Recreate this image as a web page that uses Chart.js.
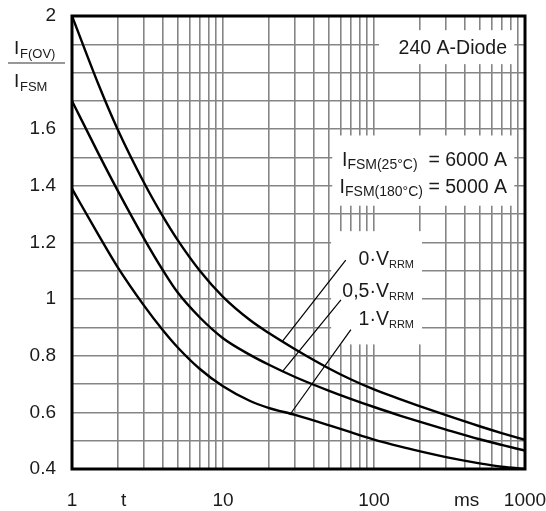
<!DOCTYPE html>
<html lang="de">
<head>
<meta charset="UTF-8">
<title>IF(OV) / IFSM</title>
<script src="https://cdn.jsdelivr.net/npm/chart.js"></script>
<style>
  html, body { margin: 0; padding: 0; background: #fff; }
  #wrap { width: 546px; height: 511px; }
</style>
</head>
<body>
<div id="wrap"><canvas id="surgeChart"></canvas></div>
<script>
// t in ms (log axis)
const times    = [1, 1.5, 2, 3, 4, 5, 7, 10, 15, 20, 30, 50, 70, 100, 150, 200, 300, 500, 700, 1000];
// IF(OV) / IFSM for the three reverse voltages
const curve0V  = [2.00, 1.757, 1.601, 1.411, 1.292, 1.209, 1.101, 1.008, 0.927, 0.881, 0.823, 0.756, 0.717, 0.681, 0.646, 0.622, 0.590, 0.551, 0.527, 0.503];
const curve05V = [1.70, 1.513, 1.385, 1.214, 1.102, 1.024, 0.936, 0.862, 0.804, 0.769, 0.725, 0.677, 0.648, 0.619, 0.588, 0.567, 0.539, 0.505, 0.485, 0.465];
const curve1V  = [1.39, 1.226, 1.114, 0.977, 0.890, 0.830, 0.754, 0.692, 0.641, 0.616, 0.591, 0.555, 0.530, 0.504, 0.479, 0.463, 0.442, 0.420, 0.408, 0.400];

// leader lines from curve to label (t, value)
const leader0T  = [24.8, 65];   const leader0V  = [0.852, 1.138];
const leader05T = [24.8, 60.4]; const leader05V = [0.745, 0.997];
const leader1T  = [28.1, 70.3]; const leader1V  = [0.596, 0.892];

// tick labels
const yTickLabels = ['2', '1.6', '1.4', '1.2', '1', '0.8', '0.6', '0.4'];
const xLabelAt    = [1, 2.2, 10, 100, 411, 1000];
const xLabelText  = ['1', 't', '10', '100', 'ms', '1000'];

const FONT = "'Liberation Sans', Arial, sans-serif";

const xGrid = [];
for (let d = 1; d < 1000; d *= 10) {
    for (let k = 1; k < 10; k++) xGrid.push(k * d);
}
xGrid.push(1000);
const xTicks = Array.from(new Set(xGrid.concat(xLabelAt))).sort((a, b) => a - b);

// white label backgrounds: [t0, t1, v0, v1]
const whiteBoxes = [
    [108, 850, 1.83, 1.95],
    [52.9, 850, 1.33, 1.578],
    [52, 208, 0.84, 1.24]
];

function pts(xs, ys) {
    return xs.map((t, i) => ({x: t, y: ys[i]}));
}

function richText(ctx, parts, xRight, yMid) {
    let w = 0;
    parts.forEach(p => { ctx.font = p[1] + 'px ' + FONT; w += ctx.measureText(p[0]).width; });
    let cx = xRight - w;
    ctx.textBaseline = 'middle';
    ctx.textAlign = 'left';
    parts.forEach(p => {
        ctx.font = p[1] + 'px ' + FONT;
        ctx.fillText(p[0], cx, yMid + (p[2] || 0));
        cx += ctx.measureText(p[0]).width;
    });
}

function noPadding(s) {
    s.paddingLeft = 0;
    s.paddingRight = 0;
    s.paddingTop = 0;
    s.paddingBottom = 0;
}

const annotate = {
    id: 'annotate',
    beforeDatasetsDraw(chart) {
        const {ctx, scales: {x, y}} = chart;
        ctx.save();
        ctx.fillStyle = '#fff';
        whiteBoxes.forEach(b => {
            const x0 = x.getPixelForValue(b[0]), x1 = x.getPixelForValue(b[1]);
            const y0 = y.getPixelForValue(b[3]), y1 = y.getPixelForValue(b[2]);
            ctx.fillRect(x0, y0, x1 - x0, y1 - y0);
        });
        ctx.restore();
    },
    afterDatasetsDraw(chart) {
        const {ctx, chartArea: a} = chart;
        ctx.save();
        ctx.strokeStyle = '#000';
        ctx.lineWidth = 3;
        ctx.strokeRect(a.left, a.top, a.right - a.left, a.bottom - a.top);
        ctx.restore();
    },
    afterDraw(chart) {
        const {ctx, chartArea: a, scales: {x, y}} = chart;
        ctx.save();
        ctx.fillStyle = '#1a1a1a';
        const xr = x.getPixelForValue(760);
        richText(ctx, [['240 A-Diode', 19.5]], xr, y.getPixelForValue(1.885));
        richText(ctx, [['I', 19.5], ['FSM(25°C)', 14, 5], ['  = 6000 A', 19.5]], xr, y.getPixelForValue(1.49));
        richText(ctx, [['I', 19.5], ['FSM(180°C)', 14, 5], [' = 5000 A', 19.5]], xr, y.getPixelForValue(1.395));
        const vr = x.getPixelForValue(184);
        richText(ctx, [['0·V', 19.5], ['RRM', 11, 5]], vr, y.getPixelForValue(1.138));
        richText(ctx, [['0,5·V', 19.5], ['RRM', 11, 5]], vr, y.getPixelForValue(1.026));
        richText(ctx, [['1·V', 19.5], ['RRM', 11, 5]], vr, y.getPixelForValue(0.927));

        // y axis title as fraction
        const fy = a.top + 47;
        ctx.textBaseline = 'middle';
        ctx.textAlign = 'left';
        ctx.font = '19px ' + FONT;
        ctx.fillText('I', 14, fy - 14);
        ctx.fillText('I', 14, fy + 19);
        ctx.font = '13px ' + FONT;
        ctx.fillText('F(OV)', 20, fy - 9);
        ctx.fillText('FSM', 20, fy + 24);
        ctx.strokeStyle = '#333';
        ctx.lineWidth = 1.2;
        ctx.beginPath();
        ctx.moveTo(8, fy);
        ctx.lineTo(65, fy);
        ctx.stroke();
        ctx.restore();
    }
};

const curveStyle = {
    borderColor: '#000',
    borderWidth: 2.4,
    pointRadius: 0,
    fill: false,
    cubicInterpolationMode: 'monotone'
};
const leaderStyle = {
    borderColor: '#000',
    borderWidth: 1.2,
    pointRadius: 0,
    fill: false
};

new Chart(document.getElementById('surgeChart'), {
    type: 'line',
    data: {
        datasets: [
            Object.assign({label: '0·VRRM', data: pts(times, curve0V)}, curveStyle),
            Object.assign({label: '0,5·VRRM', data: pts(times, curve05V)}, curveStyle),
            Object.assign({label: '1·VRRM', data: pts(times, curve1V)}, curveStyle),
            Object.assign({label: 'l0', data: pts(leader0T, leader0V)}, leaderStyle),
            Object.assign({label: 'l05', data: pts(leader05T, leader05V)}, leaderStyle),
            Object.assign({label: 'l1', data: pts(leader1T, leader1V)}, leaderStyle)
        ]
    },
    options: {
        responsive: true,
        maintainAspectRatio: false,
        animation: false,
        layout: { padding: { left: 0, right: 21, top: 16, bottom: 0 } },
        plugins: { legend: { display: false }, tooltip: { enabled: false } },
        scales: {
            x: {
                type: 'logarithmic',
                min: 1,
                max: 1000,
                afterBuildTicks: s => { s.ticks = xTicks.map(v => ({value: v})); },
                afterFit: s => { s.height = 42; noPadding(s); },
                border: { display: false },
                grid: {
                    drawTicks: false,
                    lineWidth: 1.6,
                    color: c => (c.tick && xGrid.includes(c.tick.value)) ? '#858585' : 'rgba(0,0,0,0)'
                },
                ticks: {
                    autoSkip: false,
                    maxRotation: 0,
                    padding: 20,
                    color: '#1a1a1a',
                    font: { family: FONT, size: 19 },
                    callback: v => {
                        const i = xLabelAt.indexOf(v);
                        return i >= 0 ? xLabelText[i] : '';
                    }
                }
            },
            y: {
                min: 0.4,
                max: 2,
                afterFit: s => { s.width = 72; noPadding(s); },
                border: { display: false },
                grid: { drawTicks: false, lineWidth: 1.6, color: '#858585' },
                ticks: {
                    stepSize: 0.1,
                    autoSkip: false,
                    padding: 16,
                    color: '#1a1a1a',
                    font: { family: FONT, size: 19 },
                    callback: v => {
                        const s = String(Math.round(v * 10) / 10);
                        return yTickLabels.includes(s) ? s : '';
                    }
                }
            }
        }
    },
    plugins: [annotate]
});
</script>
</body>
</html>
